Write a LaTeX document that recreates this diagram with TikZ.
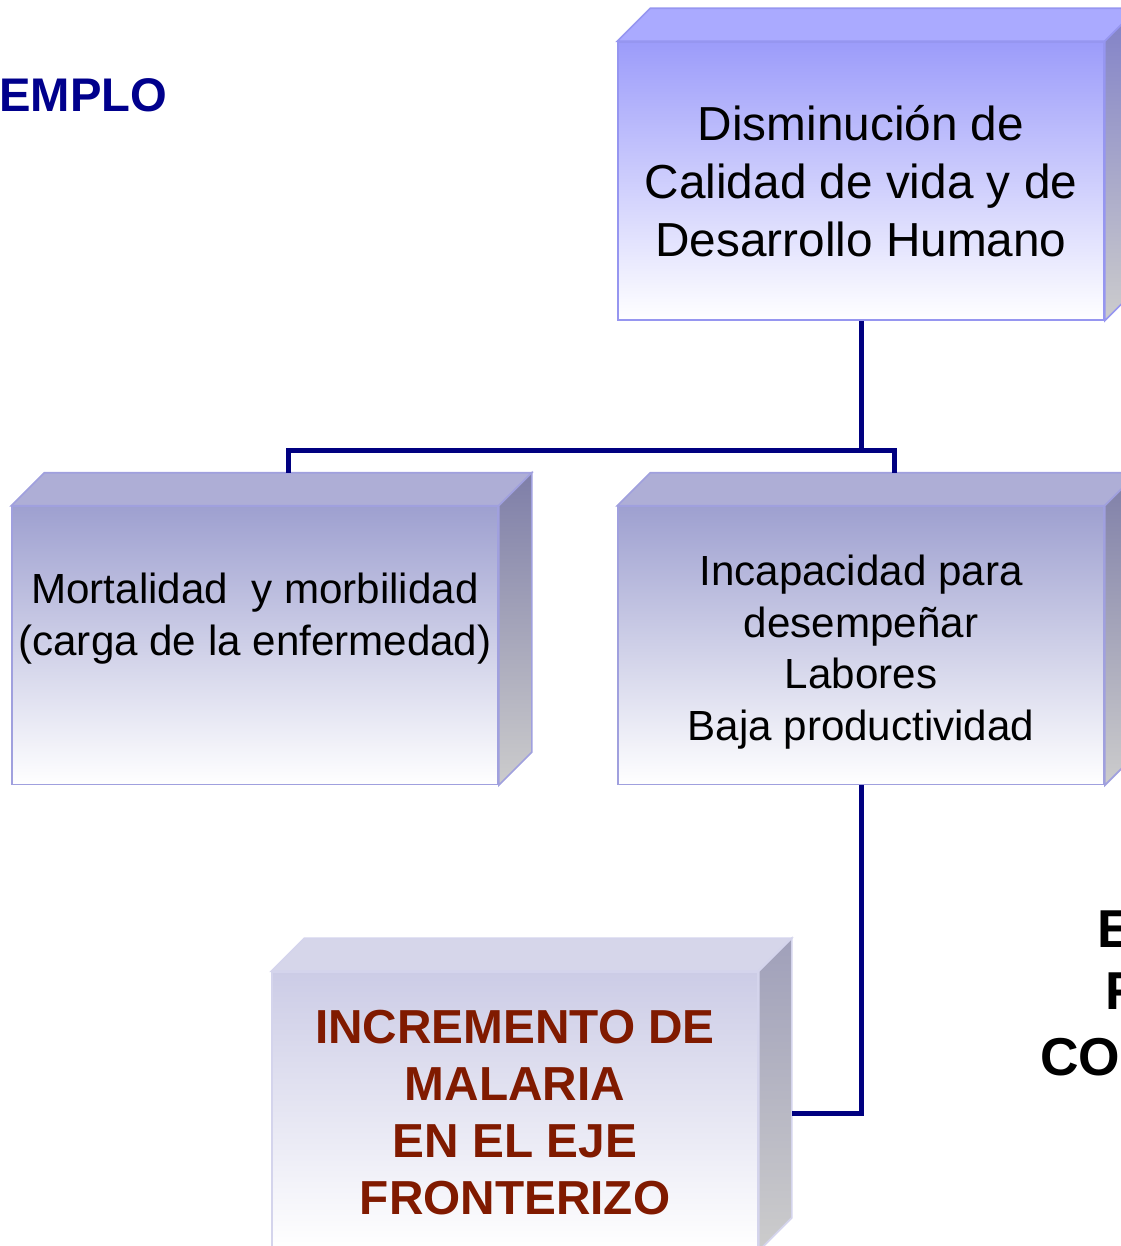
\documentclass[tikz,border=0pt]{standalone}
\usepackage{fontspec}
\setmainfont{Liberation Sans}
\definecolor{navyline}{RGB}{0,0,128}
\definecolor{titlenavy}{RGB}{0,0,140}
\definecolor{malred}{RGB}{128,26,0}
% top box
\definecolor{frontA}{RGB}{156,156,250}
\definecolor{topA}{RGB}{170,170,255}
\definecolor{sideA}{RGB}{128,128,200}
\definecolor{bordA}{RGB}{150,150,240}
% middle boxes
\definecolor{frontB}{RGB}{158,160,208}
\definecolor{topB}{RGB}{174,174,214}
\definecolor{sideB}{RGB}{126,126,168}
\definecolor{bordB}{RGB}{160,160,222}
% bottom box
\definecolor{frontC}{RGB}{204,204,230}
\definecolor{topC}{RGB}{214,214,234}
\definecolor{sideC}{RGB}{160,160,186}
\definecolor{bordC}{RGB}{212,212,236}
\definecolor{sideEnd}{RGB}{204,204,204}
\begin{document}
\begin{tikzpicture}[x=0.75pt,y=-0.75pt,
  face/.style={rectangle, inner sep=0pt, minimum width=364.5pt, minimum height=208.5pt, line width=1.2pt},
  frontAst/.style={face, draw=bordA, top color=frontA, bottom color=white},
  frontBst/.style={face, draw=bordB, top color=frontB, bottom color=white},
  frontCst/.style={face, draw=bordC, top color=frontC, bottom color=white},
  txtA/.style={font=\fontsize{35.8}{43.5}\selectfont, align=center, inner sep=0pt},
  txtB/.style={font=\fontsize{31.6}{38.8}\selectfont, align=center, inner sep=0pt},
  txtC/.style={font=\bfseries\fontsize{35.8}{42.75}\selectfont, align=center, inner sep=0pt, text=malred},
  edgetxt/.style={font=\bfseries\fontsize{40}{46}\selectfont, anchor=west, inner sep=0pt},
  link/.style={draw=navyline, line width=3.75pt}
]
\useasboundingbox (0,0) rectangle (1121,1246);

% ---------- front faces ----------
\node[frontAst] (top) at (861,181) {};
\node[frontBst] (ml) at (255,645.5) {};
\node[frontBst] (mr) at (861,645.5) {};
\node[frontCst] (bot) at (515,1111) {};

% ---------- top and side faces ----------
\def\dd{33}
% top box
\path[fill=topA, draw=bordA, line width=1.2pt] (top.north west) -- ([shift={(\dd,-\dd)}]top.north west) -- ([shift={(\dd,-\dd)}]top.north east) -- (top.north east) -- cycle;
\path[top color=sideA, bottom color=sideEnd, draw=bordA, line width=1.2pt] (top.north east) -- ([shift={(\dd,-\dd)}]top.north east) -- ([shift={(\dd,-\dd)}]top.south east) -- (top.south east) -- cycle;
% middle left
\path[fill=topB, draw=bordB, line width=1.2pt] (ml.north west) -- ([shift={(\dd,-\dd)}]ml.north west) -- ([shift={(\dd,-\dd)}]ml.north east) -- (ml.north east) -- cycle;
\path[top color=sideB, bottom color=sideEnd, draw=bordB, line width=1.2pt] (ml.north east) -- ([shift={(\dd,-\dd)}]ml.north east) -- ([shift={(\dd,-\dd)}]ml.south east) -- (ml.south east) -- cycle;
% middle right
\path[fill=topB, draw=bordB, line width=1.2pt] (mr.north west) -- ([shift={(\dd,-\dd)}]mr.north west) -- ([shift={(\dd,-\dd)}]mr.north east) -- (mr.north east) -- cycle;
\path[top color=sideB, bottom color=sideEnd, draw=bordB, line width=1.2pt] (mr.north east) -- ([shift={(\dd,-\dd)}]mr.north east) -- ([shift={(\dd,-\dd)}]mr.south east) -- (mr.south east) -- cycle;
% bottom
\path[fill=topC, draw=bordC, line width=1.2pt] (bot.north west) -- ([shift={(\dd,-\dd)}]bot.north west) -- ([shift={(\dd,-\dd)}]bot.north east) -- (bot.north east) -- cycle;
\path[top color=sideC, bottom color=sideEnd, draw=bordC, line width=1.2pt] (bot.north east) -- ([shift={(\dd,-\dd)}]bot.north east) -- ([shift={(\dd,-\dd)}]bot.south east) -- (bot.south east) -- cycle;

% ---------- texts ----------
\node[txtA] (topt) at (top.center) {Disminución de\\Calidad de vida y de\\Desarrollo Humano};
\node[txtB] (mlt) at ([yshift=20pt]ml.center) {Mortalidad\ \ y morbilidad\\(carga de la enfermedad)};
\node[txtB] (mrt) at ([yshift=-5pt]mr.center) {Incapacidad para\\desempeñar\\Labores\\Baja productividad};
\node[txtC] (bott) at ([yshift=-1.5pt]bot.center) {INCREMENTO DE\\MALARIA\\EN EL EJE\\FRONTERIZO};

\node[font=\bfseries\fontsize{35.4}{42}\selectfont, text=titlenavy, anchor=west, inner sep=0pt] (title) at (-1,95) {EMPLO};
\node[edgetxt] (e1) at (1097,929) {E};
\node[edgetxt] (e2) at (1105,991) {F};
\node[edgetxt] (e3) at (1040,1057) {CO};

% ---------- connectors ----------
\coordinate (mlTop) at ([shift={(\dd,-\dd)}]ml.north);
\coordinate (mrTop) at ([shift={(\dd,-\dd)}]mr.north);
\coordinate (split) at ([yshift=-97.5pt]top.south);
\coordinate (botSide) at ([shift={(\dd,0)}]bot.east);
\draw[link] (top.south) -- (split);
\draw[link] (mlTop) |- (split) -| (mrTop);
\draw[link] (mr.south) |- ([yshift=-1.5pt]botSide);
\end{tikzpicture}
\end{document}
